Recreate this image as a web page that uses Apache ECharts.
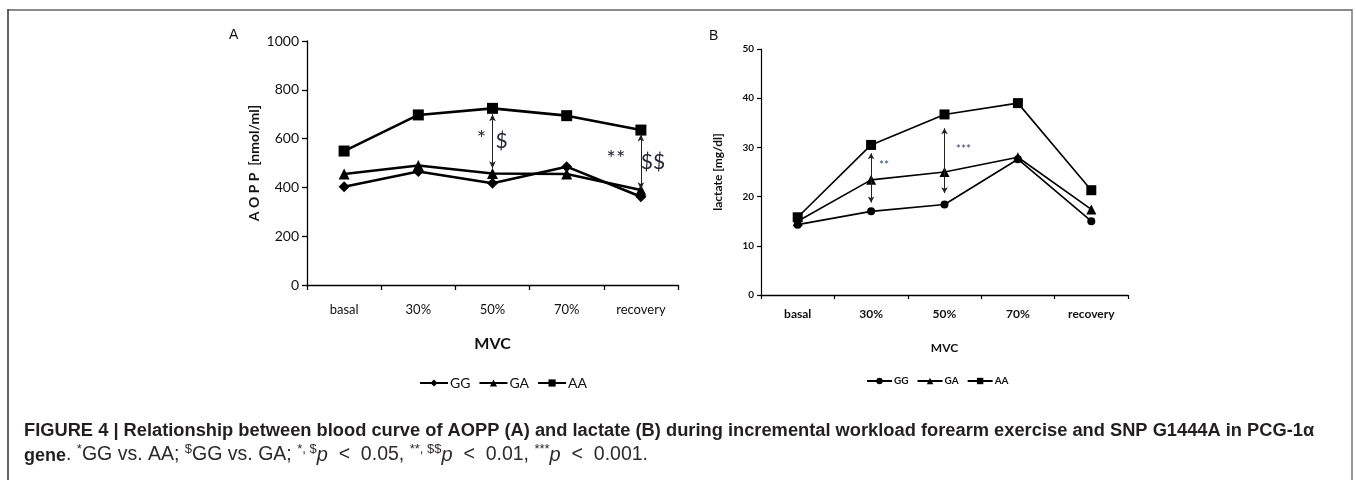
<!DOCTYPE html>
<html><head><meta charset="utf-8">
<script src="https://cdn.jsdelivr.net/npm/echarts@6/dist/echarts.min.js"></script>
<style>html,body{margin:0;padding:0;background:#fff}#c{width:1356px;height:480px}</style>
</head><body><div id="c"></div>
<script>
// ---- data ----
const categories = ['basal', '30%', '50%', '70%', 'recovery'];
const seriesNames = ['GG', 'GA', 'AA'];
const aoppGG = [403, 465, 417, 485, 362];
const aoppGA = [455, 490, 457, 455, 389];
const aoppAA = [549, 697, 724, 694, 635];
const lacGG = [14.3, 17.0, 18.4, 27.6, 15.0];
const lacGA = [15.0, 23.4, 25.0, 28.0, 17.4];
const lacAA = [15.8, 30.5, 36.7, 39.0, 21.3];
// significance arrows: [category, from, to]
const aoppArrows = [['50%', 700, 478], ['recovery', 617, 392]];
const lacArrows = [['30%', 28.8, 18.8], ['50%', 33.9, 20.7]];
// significance text: [category, value, text]
const aoppSig = [['50%', 598, '*'], ['50%', 590, '$'], ['recovery', 516, '**'], ['recovery', 505, '$$']];
const lacSig = [['30%', 26.4, '**'], ['50%', 29.7, '***']];

const chart = echarts.init(document.getElementById('c'), null, {renderer: 'canvas'});
const F = 'Lato, "Open Sans", sans-serif';
const CAP = '"Liberation Sans", Arial, sans-serif';
const SUFFIX_B = ' (B)';

function arrowLines(arr) {
  return arr.map(a => [{coord: [a[0], a[1]]}, {coord: [a[0], a[2]]}]);
}
function sigPoints(arr, offsets, sizes, color) {
  return arr.map((a, i) => ({
    coord: [a[0], a[1]], value: a[2],
    label: {show: true, formatter: a[2], offset: offsets[i], fontSize: sizes[i], color: color, fontFamily: F}
  }));
}

const symA = ['diamond', 'triangle', 'rect'];
const symB = ['circle', 'triangle', 'rect'];
const sizeA = [11, 11, 11];
const sizeB = [8, 10, 10];
const dataA = [aoppGG, aoppGA, aoppAA];
const dataB = [lacGG, lacGA, lacAA];

const series = [];
seriesNames.forEach((n, i) => {
  series.push({
    name: n, type: 'line', xAxisIndex: 0, yAxisIndex: 0, data: dataA[i],
    symbol: symA[i], symbolSize: sizeA[i], showAllSymbol: true,
    lineStyle: {color: '#000', width: 2.6}, itemStyle: {color: '#000'},
    emphasis: {disabled: true}, animation: false, z: 3 - i
  });
});
series[2].markLine = {
  silent: true, symbol: ['arrow', 'arrow'], symbolSize: [5, 7],
  lineStyle: {color: '#222', width: 1, type: 'solid'}, label: {show: false},
  data: arrowLines(aoppArrows), animation: false
};
series[2].markPoint = {
  silent: true, symbol: 'circle', symbolSize: 0,
  data: sigPoints(aoppSig, [[-11, 0], [9, 0], [-25, 0], [12, 0]], [22, 21, 22, 21], '#262838'),
  animation: false
};
seriesNames.forEach((n, i) => {
  series.push({
    name: n + SUFFIX_B, type: 'line', xAxisIndex: 1, yAxisIndex: 1, data: dataB[i],
    symbol: symB[i], symbolSize: sizeB[i], showAllSymbol: true,
    lineStyle: {color: '#000', width: 1.6}, itemStyle: {color: '#000'},
    emphasis: {disabled: true}, animation: false, z: 3 - i
  });
});
series[5].markLine = {
  silent: true, symbol: ['arrow', 'arrow'], symbolSize: [5, 6],
  lineStyle: {color: '#222', width: 1, type: 'solid'}, label: {show: false},
  data: arrowLines(lacArrows), animation: false
};
series[5].markPoint = {
  silent: true, symbol: 'circle', symbolSize: 0,
  data: sigPoints(lacSig, [[13, 0], [19, 0]], [12, 12], '#3c4a6a'),
  animation: false
};

const axisLineStyle = {lineStyle: {color: '#000', width: 1.3}};

chart.setOption({
  animation: false,
  backgroundColor: '#fff',
  grid: [
    {left: 307, top: 41, width: 371, height: 244, containLabel: false},
    {left: 761, top: 49, width: 367, height: 246, containLabel: false}
  ],
  xAxis: [
    {type: 'category', gridIndex: 0, data: categories, boundaryGap: true,
     axisLine: axisLineStyle, axisTick: {show: true, length: 5, lineStyle: {color: '#000', width: 1.3}},
     axisLabel: {fontFamily: F, fontSize: 13, color: '#111', margin: 18},
     name: 'MVC', nameLocation: 'middle', nameGap: 51,
     nameTextStyle: {fontFamily: F, fontSize: 16, fontWeight: 'bold', color: '#111'}},
    {type: 'category', gridIndex: 1, data: categories, boundaryGap: true,
     axisLine: axisLineStyle, axisTick: {show: true, length: 4, lineStyle: {color: '#000', width: 1.2}},
     axisLabel: {fontFamily: F, fontSize: 12, fontWeight: 'bold', color: '#111', margin: 13},
     name: 'MVC', nameLocation: 'middle', nameGap: 47,
     nameTextStyle: {fontFamily: F, fontSize: 12, fontWeight: 'bold', color: '#111'}}
  ],
  yAxis: [
    {type: 'value', gridIndex: 0, min: 0, max: 1000, interval: 200,
     axisLine: {show: true, lineStyle: {color: '#000', width: 1.3}},
     axisTick: {show: true, length: 5, lineStyle: {color: '#000', width: 1.3}},
     splitLine: {show: false},
     axisLabel: {fontFamily: F, fontSize: 14, color: '#111', margin: 8, formatter: v => String(v)},
     name: 'A O P P  [nmol/ml]', nameLocation: 'middle', nameGap: 46,
     nameTextStyle: {fontFamily: F, fontSize: 14, fontWeight: 'bold', color: '#111'}},
    {type: 'value', gridIndex: 1, min: 0, max: 50, interval: 10,
     axisLine: {show: true, lineStyle: {color: '#000', width: 1.2}},
     axisTick: {show: true, length: 4, lineStyle: {color: '#000', width: 1.2}},
     splitLine: {show: false},
     axisLabel: {fontFamily: F, fontSize: 10, fontWeight: 'bold', color: '#111', margin: 7},
     name: 'lactate [mg/dl]', nameLocation: 'middle', nameGap: 37,
     nameTextStyle: {fontFamily: F, fontSize: 12, fontWeight: 'bold', color: '#111'}}
  ],
  legend: [
    {data: seriesNames, left: 414, top: 371, itemWidth: 28, itemHeight: 9, itemGap: 8,
     textStyle: {fontFamily: F, fontSize: 14, color: '#111', padding: [0, 0, 0, -3]},
     selectedMode: false},
    {data: seriesNames.map(n => n + SUFFIX_B), left: 861, top: 371, itemWidth: 25, itemHeight: 8, itemGap: 8,
     formatter: name => name.replace(SUFFIX_B, ''),
     textStyle: {fontFamily: F, fontSize: 10, fontWeight: 'bold', color: '#111', padding: [0, 0, 0, -3]},
     selectedMode: false}
  ],
  series: series,
  graphic: [
    {type: 'line', shape: {x1: 8, y1: 10, x2: 1352, y2: 10}, style: {stroke: '#8a8a8a', lineWidth: 2}, silent: true},
    {type: 'line', shape: {x1: 8, y1: 9, x2: 8, y2: 480}, style: {stroke: '#333', lineWidth: 1.5}, silent: true},
    {type: 'line', shape: {x1: 1352, y1: 9, x2: 1352, y2: 480}, style: {stroke: '#777', lineWidth: 1.5}, silent: true},
    {type: 'text', left: 229, top: 28, style: {text: 'A', fontFamily: CAP, fontSize: 14, fill: '#111'}},
    {type: 'text', left: 709, top: 29, style: {text: 'B', fontFamily: CAP, fontSize: 14, fill: '#111'}},
    {type: 'text', left: 24, top: 422, style: {
      text: 'FIGURE 4 | Relationship between blood curve of AOPP (A) and lactate (B) during incremental workload forearm exercise and SNP G1444A in PCG-1α',
      fontFamily: CAP, fontSize: 18.3, fontWeight: 'bold', fill: '#231f20'}},
    {type: 'text', left: 24, top: 443, style: {
      text: '{b|gene}{n|. }{s|*}{n|GG vs. AA; }{s|$}{n|GG vs. GA; }{s|*, $}{i|p}{n|  <  0.05, }{s|**, $$}{i|p}{n|  <  0.01, }{s|***}{i|p}{n|  <  0.001.}',
      fontFamily: CAP, fontSize: 19.5, fill: '#231f20',
      rich: {
        b: {fontFamily: CAP, fontSize: 18, fontWeight: 'bold', fill: '#231f20', lineHeight: 22, verticalAlign: 'bottom'},
        n: {fontFamily: CAP, fontSize: 19.5, fill: '#2e2a2b', lineHeight: 22, verticalAlign: 'bottom'},
        i: {fontFamily: CAP, fontSize: 20, fontStyle: 'italic', fill: '#2e2a2b', lineHeight: 22, verticalAlign: 'bottom'},
        s: {fontFamily: CAP, fontSize: 13, fill: '#2e2a2b', lineHeight: 13, verticalAlign: 'top'}
      }}}
  ]
});
</script></body></html>
